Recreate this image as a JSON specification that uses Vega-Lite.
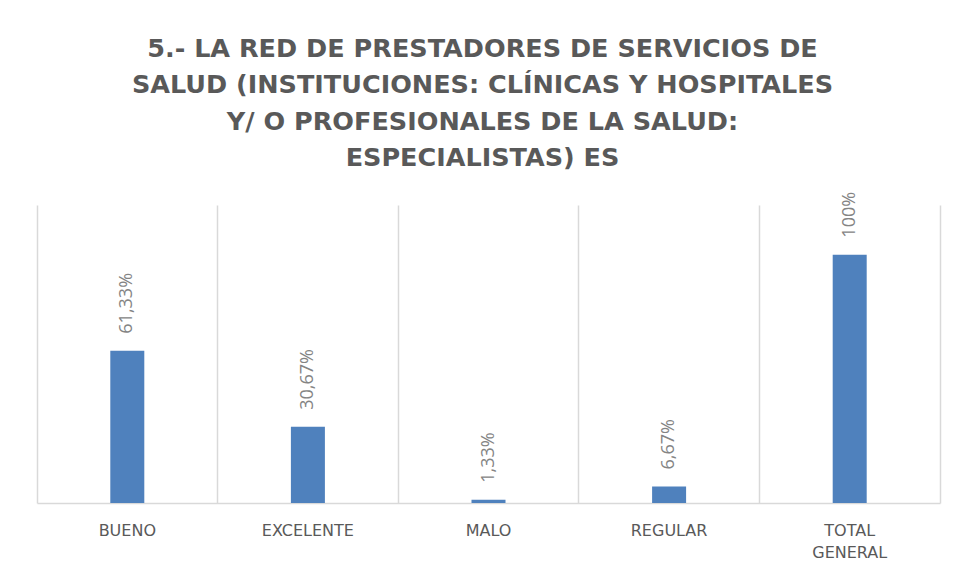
{
  "$schema": "https://vega.github.io/schema/vega-lite/v6.json",
  "width": 903,
  "height": 298,
  "autosize": "none",
  "padding": {"left": 37, "top": 205, "right": 14, "bottom": 76},
  "background": "white",
  "title": {
    "text": ["5.- LA RED DE PRESTADORES DE SERVICIOS DE", "SALUD (INSTITUCIONES: CLÍNICAS Y HOSPITALES", "Y/ O PROFESIONALES DE LA SALUD:", "ESPECIALISTAS) ES"],
    "font": "DejaVu Sans",
    "fontSize": 25.5,
    "fontWeight": "bold",
    "color": "#595959",
    "lineHeight": 36.5,
    "offset": 20,
    "anchor": "middle",
    "dx": -6
  },
  "data": {
    "values": [
      {"cat": "BUENO", "value": 0.6133, "label": "61,33%"},
      {"cat": "EXCELENTE", "value": 0.3067, "label": "30,67%"},
      {"cat": "MALO", "value": 0.0133, "label": "1,33%"},
      {"cat": "REGULAR", "value": 0.0667, "label": "6,67%"},
      {"cat": "TOTAL GENERAL", "value": 1.0, "label": "100%"}
    ]
  },
  "encoding": {
    "x": {
      "field": "cat",
      "type": "nominal",
      "sort": null,
      "title": null,
      "scale": {"paddingInner": 0, "paddingOuter": 0},
      "axis": {
        "orient": "bottom",
        "labelAngle": 0,
        "labelPadding": 19,
        "labelFontSize": 16,
        "labelFont": "DejaVu Sans",
        "labelColor": "#595959",
        "labelLineHeight": 22,
        "labelExpr": "datum.label == 'TOTAL GENERAL' ? ['TOTAL', 'GENERAL'] : datum.label",
        "ticks": false,
        "domainColor": "#d9d9d9",
        "domainWidth": 1.5,
        "grid": true,
        "gridColor": "#d9d9d9",
        "gridWidth": 1.5,
        "bandPosition": 0
      }
    },
    "y": {
      "field": "value",
      "type": "quantitative",
      "title": null,
      "scale": {"domain": [0, 1.2], "nice": false},
      "axis": {
        "orient": "right",
        "labels": false,
        "ticks": false,
        "grid": false,
        "domain": true,
        "domainColor": "#d9d9d9",
        "domainWidth": 1.5
      }
    }
  },
  "layer": [
    {"mark": {"type": "bar", "size": 34, "color": "#4F81BD"}},
    {
      "mark": {"type": "text", "angle": 270, "align": "left", "baseline": "middle", "dx": 17, "font": "Open Sans", "fontSize": 18, "color": "#848484"},
      "encoding": {"text": {"field": "label"}}
    }
  ],
  "config": {"view": {"stroke": null}}
}
